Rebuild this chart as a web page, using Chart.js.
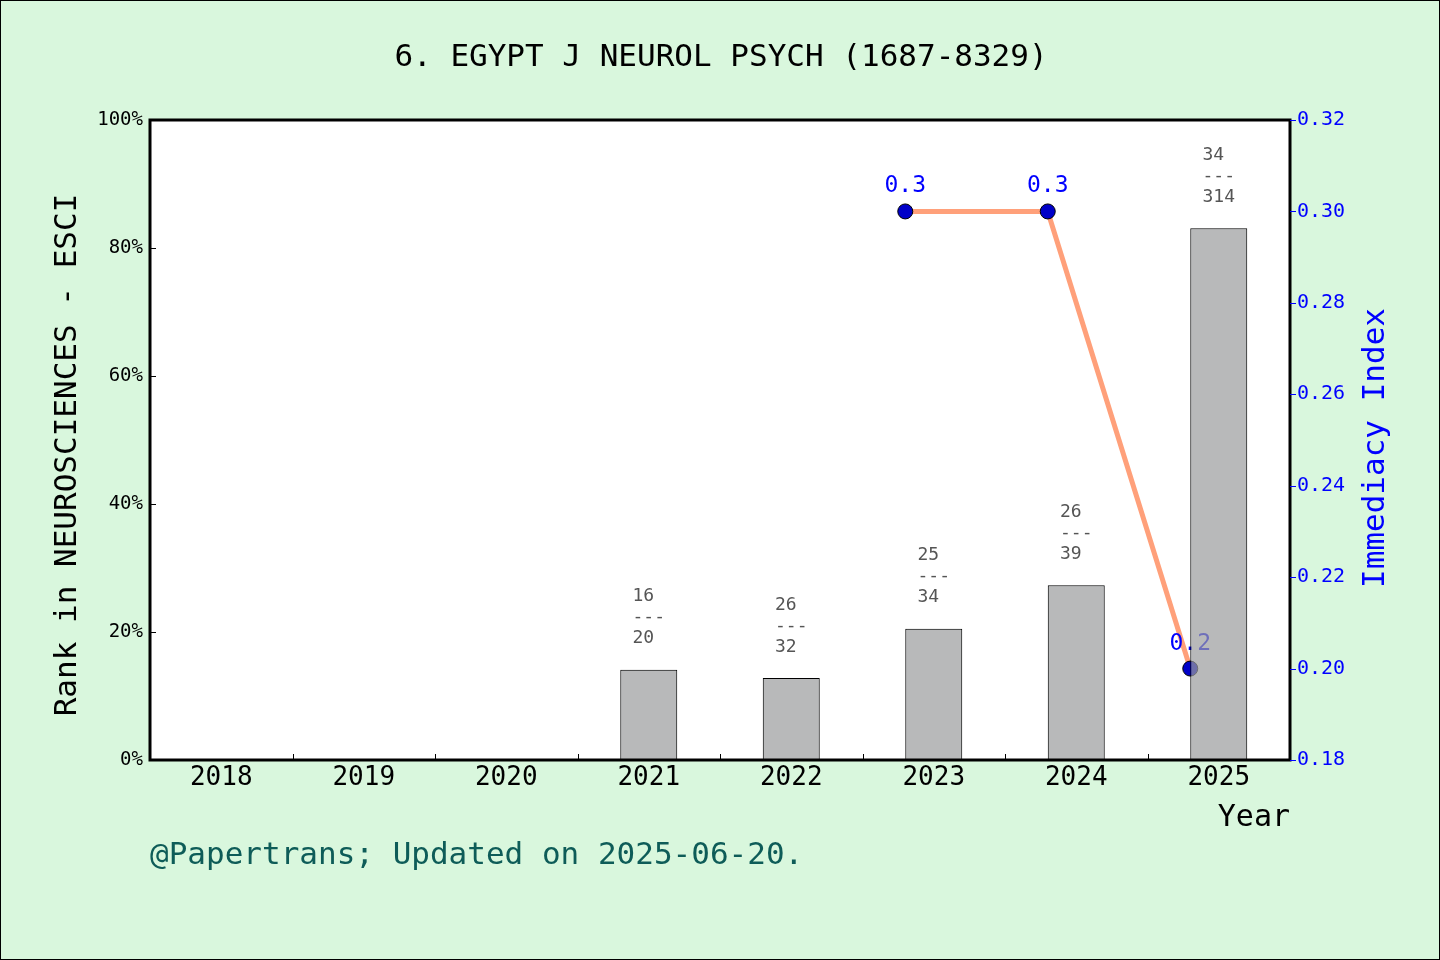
<!DOCTYPE html>
<html>
<head>
<meta charset="utf-8">
<script src="https://cdn.jsdelivr.net/npm/chart.js@4.4.1/dist/chart.umd.min.js"></script>
<style>
html,body{margin:0;padding:0;background:#d9f7dd;}
#wrap{position:absolute;left:0;top:0;width:1440px;height:960px;box-sizing:border-box;border:1px solid #000;}
canvas{display:block;}
</style>
</head>
<body>
<div id="wrap"><canvas id="c" width="1438" height="958"></canvas></div>
<script>
const titleText = "6. EGYPT J NEUROL PSYCH (1687-8329)";
const footerText = "@Papertrans; Updated on 2025-06-20.";
const leftTitle = "Rank in NEUROSCIENCES - ESCI";
const rightTitle = "Immediacy Index";
const xTitle = "Year";
const years = ["2018","2019","2020","2021","2022","2023","2024","2025"];
const rankPct = [null,null,null,14.1,12.8,20.5,27.3,83.1];
const rankNum = [null,null,null,16,26,25,26,34];
const rankDen = [null,null,null,20,32,34,39,314];
const immediacy = [null,null,null,null,null,0.3,0.3,0.2];
const immLabels = [null,null,null,null,null,"0.3","0.3","0.2"];

const MONO = '"DejaVu Sans Mono", "Liberation Mono", monospace';
const BAR_FRACTION = 0.4;           // bar width as share of a category
const LINE_SHIFT = BAR_FRACTION/2;  // line points sit at the bar's left edge

const linePoints = immediacy
  .map((v,i)=> v == null ? null : {x: i - LINE_SHIFT, y: v})
  .filter(p => p !== null);
const lineLabels = immLabels.filter(v => v != null);

const decor = {
  id: 'decor',
  beforeDraw(chart){
    const {ctx, chartArea:a} = chart;
    ctx.save();
    ctx.fillStyle = '#d9f7dd';
    ctx.fillRect(0,0,chart.width,chart.height);
    ctx.fillStyle = '#ffffff';
    ctx.fillRect(a.left,a.top,a.right-a.left,a.bottom-a.top);
    ctx.restore();
  },
  afterDatasetDraw(chart, args){
    if (args.index !== 0) return;
    const ctx = chart.ctx;
    const meta = chart.getDatasetMeta(0);
    ctx.save();
    ctx.font = '23px ' + MONO;
    ctx.fillStyle = '#0000ff';
    ctx.textAlign = 'center';
    ctx.textBaseline = 'middle';
    meta.data.forEach((pt,i)=>{
      ctx.fillText(lineLabels[i], pt.x, pt.y - 25);
    });
    ctx.restore();
  },
  afterDatasetsDraw(chart){
    const {ctx, chartArea:a, scales} = chart;
    const meta = chart.getDatasetMeta(1);
    ctx.save();
    // bar labels
    ctx.font = '18px ' + MONO;
    const cw = ctx.measureText('0').width;
    ctx.fillStyle = '#555555';
    ctx.textAlign = 'left';
    ctx.textBaseline = 'middle';
    meta.data.forEach((bar,i)=>{
      if (rankNum[i] == null) return;
      const yb = bar.y - 31;
      const x0 = bar.x - cw*1.5;
      ctx.fillText(String(rankDen[i]), x0, yb);
      ctx.fillText('---', x0, yb - 21);
      ctx.fillText(String(rankNum[i]), x0, yb - 42);
    });
    // frame
    ctx.strokeStyle = '#000';
    ctx.lineWidth = 3;
    ctx.strokeRect(a.left, a.top, a.right-a.left, a.bottom-a.top);
    // x ticks (inward at category boundaries)
    ctx.lineWidth = 1;
    const step = (a.right - a.left)/years.length;
    ctx.beginPath();
    for (let k=1;k<years.length;k++){
      const x = Math.round(a.left + step*k) + 0.5;
      ctx.moveTo(x, a.bottom); ctx.lineTo(x, a.bottom-6);
    }
    // left ticks inward
    const yl = scales.y;
    yl.ticks.forEach(t=>{
      const y = Math.round(yl.getPixelForValue(t.value)) + 0.5;
      ctx.moveTo(a.left, y); ctx.lineTo(a.left+6, y);
    });
    ctx.stroke();
    // right ticks outward, blue
    const yr = scales.y1;
    ctx.strokeStyle = '#0000ff';
    ctx.beginPath();
    yr.ticks.forEach(t=>{
      const y = Math.round(yr.getPixelForValue(t.value)) + 0.5;
      ctx.moveTo(a.right, y); ctx.lineTo(a.right+6, y);
    });
    ctx.stroke();
    // title
    ctx.fillStyle = '#000';
    ctx.font = '31px ' + MONO;
    ctx.textAlign = 'center';
    ctx.textBaseline = 'middle';
    ctx.fillText(titleText, 720, 57);
    // footer
    ctx.fillStyle = '#0e5c58';
    ctx.textAlign = 'left';
    ctx.fillText(footerText, 149, 855);
    // x title
    ctx.fillStyle = '#000';
    ctx.font = '30px ' + MONO;
    ctx.textAlign = 'right';
    ctx.fillText(xTitle, a.right, 817);
    // left title
    ctx.save();
    ctx.translate(67, 454);
    ctx.rotate(-Math.PI/2);
    ctx.font = '31px ' + MONO;
    ctx.textAlign = 'center';
    ctx.fillText(leftTitle, 0, 0);
    ctx.restore();
    // right title
    ctx.save();
    ctx.translate(1375, 447);
    ctx.rotate(-Math.PI/2);
    ctx.font = '31px ' + MONO;
    ctx.fillStyle = '#0000ff';
    ctx.textAlign = 'center';
    ctx.fillText(rightTitle, 0, 0);
    ctx.restore();
    ctx.restore();
  }
};

new Chart(document.getElementById('c'), {
  data: {
    labels: years,
    datasets: [
      {
        type: 'line',
        label: 'Immediacy Index',
        data: linePoints,
        xAxisID: 'xl',
        yAxisID: 'y1',
        borderColor: '#ffa07a',
        borderWidth: 5,
        pointRadius: 7.5,
        pointBackgroundColor: '#0000c8',
        pointBorderColor: '#000',
        pointBorderWidth: 1,
        tension: 0,
        order: 2
      },
      {
        type: 'bar',
        label: 'Rank',
        data: rankPct,
        xAxisID: 'x',
        yAxisID: 'y',
        backgroundColor: 'rgba(155,156,158,0.71)',
        borderColor: '#000',
        borderWidth: 1,
        grouped: false,
        barPercentage: BAR_FRACTION,
        categoryPercentage: 1.0,
        order: 1
      }
    ]
  },
  options: {
    responsive: false,
    animation: false,
    devicePixelRatio: 1,
    layout: { padding: { left: 0, right: 0, top: 119, bottom: 0 } },
    plugins: { legend: { display: false }, tooltip: { enabled: false }, title: { display: false } },
    scales: {
      x: {
        type: 'category',
        grid: { display: false, drawTicks: false },
        border: { display: false },
        ticks: { color: '#000', font: { family: MONO, size: 26 }, padding: 3, maxRotation: 0 },
        afterFit(s){ s.height = 958 - 759; }
      },
      xl: {
        type: 'linear',
        position: 'top',
        display: false,
        min: -0.5, max: years.length - 0.5
      },
      y: {
        position: 'left',
        min: 0, max: 100,
        grid: { display: false, drawTicks: false },
        border: { display: false },
        ticks: { stepSize: 20, color: '#000', font: { family: MONO, size: 19 }, padding: 7,
                 callback: v => v + '%' },
        afterFit(s){ s.width = 149; }
      },
      y1: {
        position: 'right',
        min: 0.18, max: 0.32,
        grid: { display: false, drawTicks: false },
        border: { display: false },
        ticks: { stepSize: 0.02, color: '#0000ff', font: { family: MONO, size: 20 }, padding: 7,
                 callback: v => v.toFixed(2) },
        afterFit(s){ s.width = 1438 - 1289; }
      }
    }
  },
  plugins: [decor]
});
</script>
</body>
</html>
